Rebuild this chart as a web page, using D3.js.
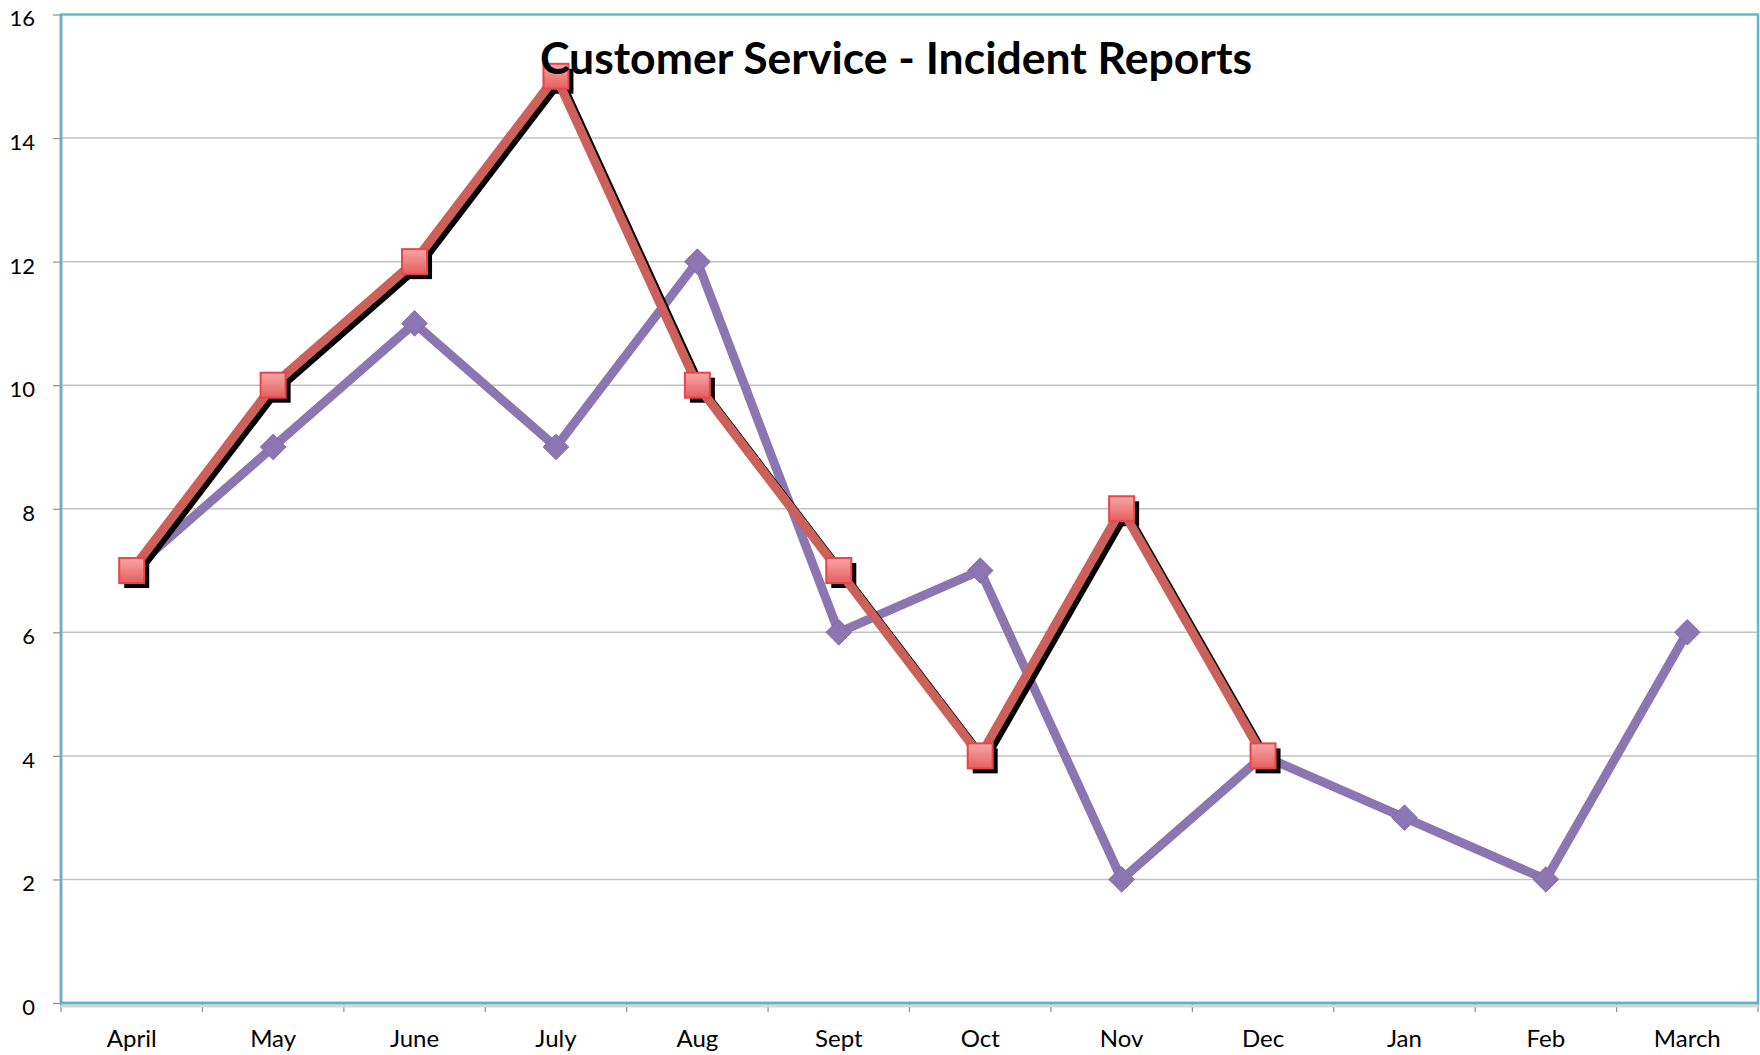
<!DOCTYPE html>
<html>
<head>
<meta charset="utf-8">
<script src="https://cdn.jsdelivr.net/npm/d3@7"></script>
<style>
  body { margin: 0; background: #fff; }
  text { font-family: Lato, "Open Sans", sans-serif; fill: #000; }
</style>
</head>
<body>
<script>
// chart data
const months = ["April", "May", "June", "July", "Aug", "Sept", "Oct", "Nov", "Dec", "Jan", "Feb", "March"];
const incidentsA = [7, 9, 11, 9, 12, 6, 7, 2, 4, 3, 2, 6];          // purple, diamonds
const incidentsB = [7, 10, 12, 15, 10, 7, 4, 8, 4];                 // red, squares
const yTicks = [0, 2, 4, 6, 8, 10, 12, 14, 16];
const title = "Customer Service - Incident Reports";

const width = 1760, height = 1055;
const margin = {top: 14.5, right: 2, bottom: 52, left: 61};

const svg = d3.select("body").append("svg")
    .attr("width", width)
    .attr("height", height);

const x = d3.scaleBand()
    .domain(months)
    .range([margin.left, width - margin.right]);
const y = d3.scaleLinear()
    .domain([0, 16])
    .range([height - margin.bottom, margin.top]);

const defs = svg.append("defs");
const grad = defs.append("linearGradient")
    .attr("id", "sqFill")
    .attr("x1", 0).attr("y1", 0).attr("x2", 0).attr("y2", 1);
grad.append("stop").attr("offset", "0%").attr("stop-color", "#f8a7a6");
grad.append("stop").attr("offset", "100%").attr("stop-color", "#e35f5e");

// horizontal gridlines
svg.append("g")
    .selectAll("line")
    .data(yTicks.filter(d => d > 0 && d < 16))
    .join("line")
    .attr("x1", margin.left)
    .attr("x2", width - margin.right)
    .attr("y1", d => y(d))
    .attr("y2", d => y(d))
    .attr("stroke", "#c2c2c2")
    .attr("stroke-width", 1.5);

// y axis: ticks + labels
const yAxis = svg.append("g")
    .attr("transform", `translate(${margin.left},0)`)
    .call(d3.axisLeft(y).tickValues(yTicks).tickSize(8).tickPadding(18));
yAxis.select(".domain").remove();
yAxis.selectAll(".tick line").attr("stroke", "#8c8c8c").attr("stroke-width", 1.2);
yAxis.selectAll(".tick text")
    .attr("font-size", 22)
    .attr("font-family", "Lato, sans-serif")
    .attr("dy", "0.52em")
    .attr("fill", "#000");

// x axis: ticks at band edges + labels
const xAxisY = y(0);
const edges = d3.range(months.length + 1).map(i => margin.left + i * x.bandwidth());
svg.append("g")
    .selectAll("line")
    .data(edges)
    .join("line")
    .attr("x1", d => d).attr("x2", d => d)
    .attr("y1", xAxisY).attr("y2", xAxisY + 9)
    .attr("stroke", "#8c8c8c")
    .attr("stroke-width", 1.2);
svg.append("g")
    .selectAll("text")
    .data(months)
    .join("text")
    .attr("x", d => x(d) + x.bandwidth() / 2)
    .attr("y", xAxisY + 44)
    .attr("text-anchor", "middle")
    .attr("font-size", 24)
    .text(d => d);

// plot frame (light shadow, then blue border)
svg.append("line")
    .attr("x1", margin.left).attr("x2", width - margin.right)
    .attr("y1", xAxisY + 3).attr("y2", xAxisY + 3)
    .attr("stroke", "#d6d6d6").attr("stroke-width", 3);
svg.append("rect")
    .attr("x", margin.left)
    .attr("y", margin.top)
    .attr("width", width - margin.right - margin.left)
    .attr("height", xAxisY - margin.top)
    .attr("fill", "none")
    .attr("stroke", "#5dbad6")
    .attr("stroke-width", 2.5);
svg.append("path")
    .attr("d", `M${margin.left},${margin.top}V${xAxisY}H${width - margin.right}`)
    .attr("fill", "none")
    .attr("stroke", "#6eadc0")
    .attr("stroke-width", 2.5);

// purple series
const lineA = d3.line()
    .x((d, i) => x(months[i]) + x.bandwidth() / 2)
    .y(d => y(d));
svg.append("path")
    .datum(incidentsA)
    .attr("d", lineA)
    .attr("fill", "none")
    .attr("stroke", "#8c76b1")
    .attr("stroke-width", 9)
    .attr("stroke-linejoin", "round");
svg.append("g")
    .selectAll("path")
    .data(incidentsA)
    .join("path")
    .attr("d", d3.symbol(d3.symbolSquare, 330))
    .attr("transform", (d, i) => `translate(${x(months[i]) + x.bandwidth() / 2},${y(d)}) rotate(45)`)
    .attr("fill", "#8c76b1")
    .attr("stroke", "#7d69a3")
    .attr("stroke-width", 0.8);

// red series with black drop shadow
const off = 5;
const lineB = d3.line()
    .x((d, i) => x(months[i]) + x.bandwidth() / 2)
    .y(d => y(d));
svg.append("path")
    .datum(incidentsB)
    .attr("d", lineB)
    .attr("transform", `translate(${off - 1},${off - 1})`)
    .attr("fill", "none")
    .attr("stroke", "#000")
    .attr("stroke-width", 9)
    .attr("stroke-linejoin", "round");
svg.append("g")
    .selectAll("rect")
    .data(incidentsB)
    .join("rect")
    .attr("x", (d, i) => x(months[i]) + x.bandwidth() / 2 - 12.5 + off)
    .attr("y", d => y(d) - 12.5 + off)
    .attr("width", 25)
    .attr("height", 25)
    .attr("fill", "#000");
svg.append("path")
    .datum(incidentsB)
    .attr("d", lineB)
    .attr("fill", "none")
    .attr("stroke", "#cc615b")
    .attr("stroke-width", 9)
    .attr("stroke-linejoin", "round");
svg.append("g")
    .selectAll("rect")
    .data(incidentsB)
    .join("rect")
    .attr("x", (d, i) => x(months[i]) + x.bandwidth() / 2 - 12.5)
    .attr("y", d => y(d) - 12.5)
    .attr("width", 25)
    .attr("height", 25)
    .attr("fill", "url(#sqFill)")
    .attr("stroke", "#e8454a")
    .attr("stroke-width", 2);

// title
svg.append("text")
    .attr("x", 896)
    .attr("y", 74)
    .attr("text-anchor", "middle")
    .attr("font-size", 44.5)
    .attr("font-weight", "bold")
    .text(title);
</script>
</body>
</html>
